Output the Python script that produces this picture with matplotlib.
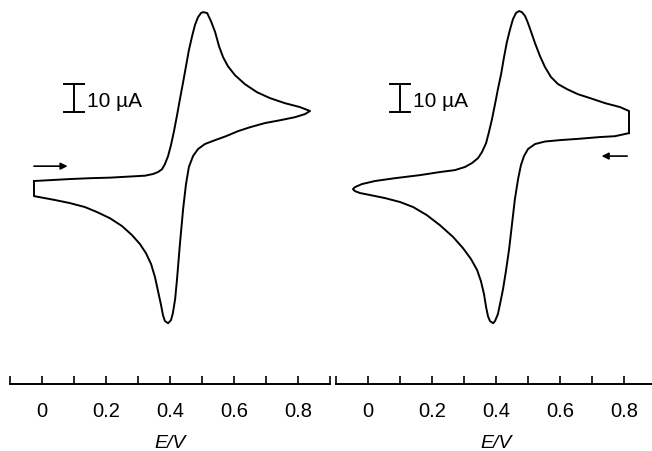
import numpy as np
import matplotlib.pyplot as plt

plt.rcParams['font.family'] = ['Liberation Sans', 'DejaVu Sans']

# --- Data: potential E (V) and current I (uA) ---
# left voltammogram: forward scan from 0 V to +0.84 V, then back
left_E = [-0.025, 0.025, 0.0875, 0.15, 0.2125, 0.275, 0.322, 0.347, 0.3625, 0.375,
          0.384, 0.394, 0.403, 0.4125, 0.422, 0.431, 0.441, 0.45, 0.459, 0.469,
          0.478, 0.4875, 0.497, 0.503, 0.516, 0.528, 0.541, 0.553, 0.566, 0.581,
          0.603, 0.634, 0.672, 0.7125, 0.759, 0.806, 0.8375,
          0.822, 0.791, 0.744, 0.697, 0.65, 0.6125, 0.575, 0.541, 0.509, 0.4875,
          0.472, 0.459, 0.45, 0.441, 0.431, 0.422, 0.416, 0.409, 0.403, 0.394,
          0.384, 0.378, 0.372, 0.3625, 0.353, 0.341, 0.325, 0.306, 0.281, 0.25,
          0.2125, 0.172, 0.134, 0.0875, 0.041, -0.025, -0.025]
left_I = [2.9, 3.2, 3.6, 3.9, 4.1, 4.5, 4.8, 5.4, 6.1, 7.1,
          8.9, 11.8, 15.7, 20.7, 26.4, 32.1, 38.2, 43.9, 49.6, 54.6,
          58.6, 61.4, 62.9, 63.2, 62.9, 60.0, 56.1, 51.1, 47.1, 43.9,
          40.7, 37.5, 34.6, 32.5, 30.7, 29.3, 27.9,
          26.8, 25.7, 24.6, 23.6, 22.1, 20.7, 18.9, 17.5, 16.1, 14.3,
          11.8, 7.9, 1.8, -7.1, -19.6, -32.1, -39.3, -44.3, -46.8, -47.9,
          -47.1, -45.0, -41.4, -36.4, -31.4, -26.8, -22.9, -19.6, -16.4, -13.2,
          -10.4, -8.2, -6.4, -5.0, -3.9, -2.5, 2.9]

# right voltammogram: scan starts at +0.82 V going negative, then back
right_E = [0.8156, 0.772, 0.725, 0.6625, 0.6, 0.553, 0.522, 0.5, 0.4875, 0.478,
           0.469, 0.459, 0.45, 0.441, 0.431, 0.422, 0.4125, 0.406, 0.397, 0.391,
           0.381, 0.375, 0.369, 0.3625, 0.353, 0.341, 0.322, 0.297, 0.266, 0.225,
           0.184, 0.141, 0.1, 0.053, 0.006, -0.025, -0.041, -0.047,
           -0.041, -0.019, 0.022, 0.084, 0.1625, 0.225, 0.272, 0.303, 0.325, 0.344,
           0.356, 0.369, 0.378, 0.3875, 0.397, 0.406, 0.416, 0.425, 0.434, 0.444,
           0.453, 0.4625, 0.472, 0.481, 0.491, 0.5, 0.509, 0.522, 0.5375, 0.553,
           0.572, 0.594, 0.622, 0.656, 0.694, 0.741, 0.7875, 0.8156, 0.8156]
right_I = [20.0, 18.9, 18.6, 18.0, 17.5, 17.0, 16.1, 14.3, 11.8, 8.6,
           3.6, -3.6, -12.5, -21.4, -29.3, -35.7, -41.1, -44.6, -47.1, -47.9,
           -47.1, -45.4, -42.1, -37.5, -32.9, -28.9, -25.0, -21.1, -17.1, -12.9,
           -9.3, -6.4, -4.6, -3.2, -2.1, -1.4, -0.7, 0.0,
           0.7, 1.8, 2.9, 3.9, 5.0, 6.1, 6.8, 7.9, 9.3, 11.1,
           13.2, 16.4, 20.4, 25.0, 30.4, 35.7, 41.1, 47.1, 52.5, 57.1,
           60.7, 62.9, 63.6, 63.2, 61.8, 59.3, 56.4, 52.1, 47.5, 43.6,
           40.0, 37.5, 35.7, 33.9, 32.5, 30.7, 29.3, 27.9, 20.0]

tick_pos = [-0.1, 0.0, 0.1, 0.2, 0.3, 0.4, 0.5, 0.6, 0.7, 0.8, 0.9]
tick_labels = ['', '0', '', '0.2', '', '0.4', '', '0.6', '', '0.8', '']

fig = plt.figure(figsize=(6.52, 4.52), dpi=100)
W, H = 652, 452
y_bottom = 385  # pixel row of the potential axis


def make_panel(x_left, E, I, arrow_from, arrow_to):
    ax = fig.add_axes([x_left / W, (H - y_bottom) / H, 320 / W, y_bottom / H])
    ax.set_xlim(-0.1, 0.9)
    ax.set_ylim(-69.6, 67.9)
    ax.plot(E, I, color='black', lw=1.4, clip_on=False, solid_joinstyle='round')
    for s in ['left', 'right', 'top']:
        ax.spines[s].set_visible(False)
    ax.spines['bottom'].set_linewidth(1.4)
    ax.set_yticks([])
    ax.set_xticks(tick_pos)
    ax.set_xticklabels(tick_labels)
    ax.tick_params(axis='x', direction='in', length=6, width=1.2, pad=12, labelsize=14.5)
    ax.set_xlabel('E/V', fontsize=14, style='italic', labelpad=10)
    # 10 uA scale bar
    ax.plot([0.1, 0.1], [27.5, 37.5], color='black', lw=1.4)
    ax.plot([0.068, 0.132], [37.5, 37.5], color='black', lw=1.4)
    ax.plot([0.068, 0.132], [27.5, 27.5], color='black', lw=1.4)
    ax.text(0.14, 31.5, '10 \u00b5A', fontsize=15, va='center', ha='left')
    ax.annotate('', xy=arrow_to, xytext=arrow_from,
                arrowprops=dict(arrowstyle='-|>', color='black', lw=1.2,
                                mutation_scale=10, shrinkA=0, shrinkB=0))
    return ax


make_panel(10, left_E, left_I, (-0.025, 8.2), (0.08, 8.2))
make_panel(336, right_E, right_I, (0.81, 11.8), (0.73, 11.8))

fig.savefig('out.png', dpi=100)
